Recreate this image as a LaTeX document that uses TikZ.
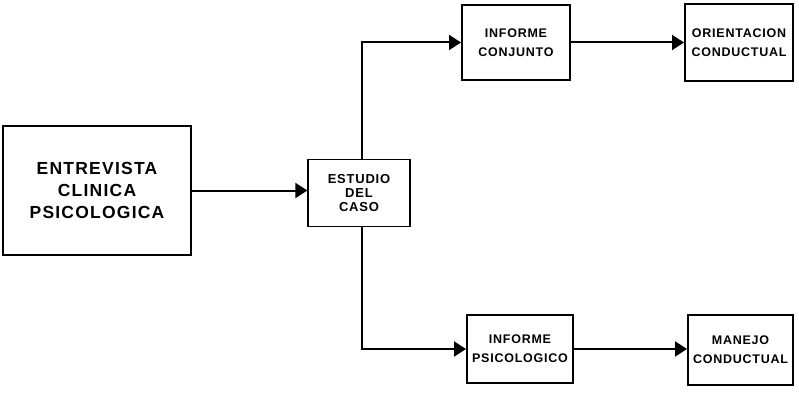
\documentclass[tikz,border=0pt]{standalone}
\usepackage{fontspec}
\usetikzlibrary{arrows.meta}
\newfontfamily\boxfont[LetterSpace=6]{Liberation Sans}
\newfontfamily\bigfont[LetterSpace=7]{Liberation Sans}
\begin{document}
\begin{tikzpicture}[x=1pt,y=-1pt,
  box/.style={draw,line width=2pt,rectangle,align=center,inner sep=0pt,font=\boxfont\bfseries\fontsize{12.5}{19}\selectfont},
  arr/.style={line width=2pt,-{Triangle[length=12pt,width=15pt]}}]
\useasboundingbox (0,0) rectangle (799,393);
\node[box,line width=1.3pt,minimum width=188pt,minimum height=129pt,font=\bigfont\bfseries\fontsize{17.5}{22}\selectfont] (ent) at (97,190.5) {ENTREVISTA\\CLINICA\\PSICOLOGICA};
\node[box,line width=1.3pt,minimum width=102pt,minimum height=67pt,font=\boxfont\bfseries\fontsize{13}{14}\selectfont] (est) at (359,193) {ESTUDIO\\DEL\\CASO};
\node[box,minimum width=108pt,minimum height=75pt] (ic) at (516,42.5) {INFORME\\CONJUNTO};
\node[box,minimum width=108pt,minimum height=77pt] (oc) at (739,42.5) {ORIENTACION\\CONDUCTUAL};
\node[box,minimum width=106pt,minimum height=68pt] (ip) at (520,349) {INFORME\\PSICOLOGICO};
\node[box,minimum width=105pt,minimum height=70pt] (mc) at (740.5,350) {MANEJO\\CONDUCTUAL};
\coordinate (v) at (362,193);
\draw[arr] (ent.east) -- (ent.east -| est.west);
\draw[arr] (est.north -| v) |- (ic.west);
\draw[arr] (est.south -| v) |- (ip.west);
\draw[arr] (ic.east) -- (ic.east -| oc.west);
\draw[arr] (ip.east) -- (ip.east -| mc.west);
\end{tikzpicture}
\end{document}
